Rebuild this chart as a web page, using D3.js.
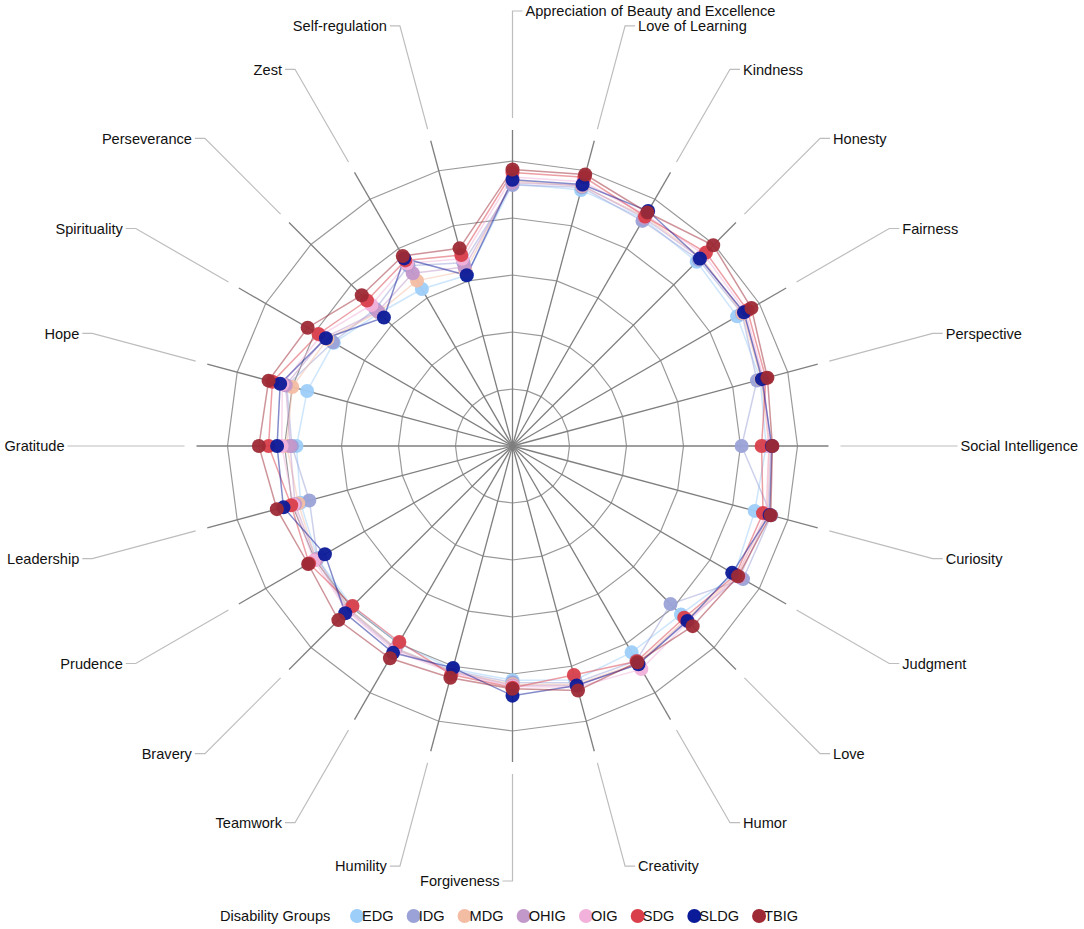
<!DOCTYPE html>
<html>
<head>
<meta charset="utf-8">
<script src="https://cdn.jsdelivr.net/npm/d3@7"></script>
<style>
  body { margin: 0; background: #fff; }
  text { font-family: "Liberation Sans", Arial, sans-serif; fill: #111; }
</style>
</head>
<body>
<div id="chart"></div>
<script>
var w = 1084;
var h = 929;
var cx = 512.5;
var cy = 446;

// axes, clockwise from the top
var strengths = ["Appreciation of Beauty and Excellence", "Love of Learning", "Kindness", "Honesty",
    "Fairness", "Perspective", "Social Intelligence", "Curiosity", "Judgment", "Love", "Humor",
    "Creativity", "Forgiveness", "Humility", "Teamwork", "Bravery", "Prudence", "Leadership",
    "Gratitude", "Hope", "Spirituality", "Perseverance", "Zest", "Self-regulation"];

var groupNames = ["EDG", "IDG", "MDG", "OHIG", "OIG", "SDG", "SLDG", "TBIG"];
var colors = ["#9dcdf9", "#9ba2d7", "#f3bda3", "#c297ca", "#f1b1da", "#d93f4b", "#0b1a98", "#9d2a35"];
var levels = [1, 2, 3, 4, 5];

// mean scores per group, same order as strengths
var edg  = [4.60, 4.65, 4.60, 4.57, 4.55, 4.50, 4.45, 4.40, 4.50, 4.18, 4.18, 4.25, 4.11, 4.05, 4.00, 3.98, 3.95, 3.85, 3.79, 3.73, 3.62, 3.30, 3.18, 3.10];
var idg  = [4.58, 4.70, 4.56, 4.62, 4.65, 4.44, 4.02, 4.70, 4.67, 3.92, 4.35, 4.30, 4.15, 4.08, 4.10, 4.05, 3.95, 3.69, 3.87, 4.10, 3.64, 3.40, 3.65, 3.33];
var mdg  = [4.65, 4.72, 4.65, 4.68, 4.66, 4.52, 4.50, 4.62, 4.55, 4.30, 4.40, 4.33, 4.18, 4.10, 4.10, 4.05, 3.98, 3.89, 3.96, 4.00, 3.75, 3.32, 3.35, 3.18];
var ohig = [4.62, 4.73, 4.62, 4.66, 4.68, 4.55, 4.53, 4.64, 4.60, 4.32, 4.42, 4.35, 4.20, 4.10, 4.12, 4.08, 3.98, 3.95, 3.90, 4.12, 3.80, 3.34, 3.50, 3.25];
var oig  = [4.72, 4.80, 4.68, 4.75, 4.72, 4.56, 4.50, 4.60, 4.55, 4.36, 4.52, 4.38, 4.22, 4.12, 4.15, 4.10, 4.02, 3.98, 4.05, 4.18, 3.88, 3.50, 3.70, 3.40];
var sdg  = [4.80, 4.88, 4.65, 4.80, 4.76, 4.60, 4.37, 4.55, 4.52, 4.26, 4.36, 4.16, 4.24, 4.15, 3.97, 3.97, 4.12, 4.02, 4.28, 4.36, 3.93, 3.61, 3.76, 3.47];
var sldg = [4.67, 4.75, 4.76, 4.65, 4.69, 4.53, 4.55, 4.67, 4.45, 4.34, 4.42, 4.35, 4.38, 4.03, 4.19, 4.15, 3.80, 4.16, 4.13, 4.22, 3.78, 3.19, 3.80, 3.10];
var tbig = [4.85, 4.93, 4.73, 4.98, 4.84, 4.63, 4.56, 4.69, 4.57, 4.47, 4.38, 4.44, 4.26, 4.21, 4.30, 4.32, 4.14, 4.28, 4.45, 4.43, 4.15, 3.74, 3.85, 3.59];

var groupValues = [edg, idg, mdg, ohig, oig, sdg, sldg, tbig];

var svg = d3.select("#chart")
    .append("svg")
    .attr("width", w)
    .attr("height", h);

var g = svg.append("g")
    .attr("transform", "translate(" + cx + "," + cy + ")");

var rScale = d3.scaleLinear()
    .domain([0, 5])
    .range([0, 285]);

var angle = d3.scalePoint()
    .domain(strengths)
    .range([0, 2 * Math.PI * (strengths.length - 1) / strengths.length]);

var spokeEnd = 316;
var leaderStart = 328;
var leaderEnd = 435;

// ring polygons
var ringLine = d3.lineRadial()
    .angle(function (d) { return angle(d); })
    .curve(d3.curveLinearClosed);

g.selectAll(".ring")
    .data(levels)
    .enter()
    .append("path")
    .attr("class", "ring")
    .attr("d", function (lv) {
        return ringLine.radius(rScale(lv))(strengths);
    })
    .attr("fill", "none")
    .attr("stroke", "#9a9a9a")
    .attr("stroke-width", 1.2);

// spokes
g.selectAll(".spoke")
    .data(strengths)
    .enter()
    .append("line")
    .attr("class", "spoke")
    .attr("x1", 0)
    .attr("y1", 0)
    .attr("x2", function (d) { return spokeEnd * Math.sin(angle(d)); })
    .attr("y2", function (d) { return -spokeEnd * Math.cos(angle(d)); })
    .attr("stroke", "#7f7f7f")
    .attr("stroke-width", 1.3);

// label leader lines
function side(i) {
    return i < strengths.length / 2 ? 1 : -1;
}

g.selectAll(".leader")
    .data(strengths)
    .enter()
    .append("polyline")
    .attr("class", "leader")
    .attr("points", function (d, i) {
        var a = angle(d);
        var x1 = leaderStart * Math.sin(a), y1 = -leaderStart * Math.cos(a);
        var x2 = leaderEnd * Math.sin(a), y2 = -leaderEnd * Math.cos(a);
        return [[x1, y1], [x2, y2], [x2 + 10 * side(i), y2]].join(" ");
    })
    .attr("fill", "none")
    .attr("stroke", "#bdbdbd")
    .attr("stroke-width", 1.2);

g.selectAll(".axis-label")
    .data(strengths)
    .enter()
    .append("text")
    .attr("class", "axis-label")
    .text(function (d) { return d; })
    .attr("x", function (d, i) { return leaderEnd * Math.sin(angle(d)) + 13 * side(i); })
    .attr("y", function (d) { return -leaderEnd * Math.cos(angle(d)); })
    .attr("dy", "0.36em")
    .attr("text-anchor", function (d, i) { return side(i) > 0 ? "start" : "end"; })
    .attr("font-size", "14.6px");

// series lines
var seriesLine = d3.lineRadial()
    .angle(function (d, i) { return angle(strengths[i]); })
    .radius(function (d) { return rScale(d); })
    .curve(d3.curveLinearClosed);

g.selectAll(".series")
    .data(groupValues)
    .enter()
    .append("path")
    .attr("class", "series")
    .attr("d", seriesLine)
    .attr("fill", "none")
    .attr("stroke", function (d, i) { return colors[i]; })
    .attr("stroke-opacity", 0.5)
    .attr("stroke-width", 1.5);

// dots, one group per series so later groups sit on top
var dotGroups = g.selectAll(".dots")
    .data(groupValues)
    .enter()
    .append("g")
    .attr("class", "dots")
    .attr("fill", function (d, i) { return colors[i]; });

dotGroups.selectAll("circle")
    .data(function (d) { return d; })
    .enter()
    .append("circle")
    .attr("cx", function (d, i) { return rScale(d) * Math.sin(angle(strengths[i])); })
    .attr("cy", function (d, i) { return -rScale(d) * Math.cos(angle(strengths[i])); })
    .attr("r", 7)
    .attr("fill-opacity", 0.95);

// legend
var legend = svg.append("g")
    .attr("transform", "translate(0,916)");

legend.append("text")
    .text("Disability Groups")
    .attr("x", 220)
    .attr("dy", "0.35em")
    .attr("font-size", "14.6px");

var lx = 357;
groupNames.forEach(function (name, i) {
    legend.append("circle")
        .attr("cx", lx)
        .attr("cy", 0)
        .attr("r", 7)
        .attr("fill", colors[i]);
    var t = legend.append("text")
        .text(name)
        .attr("x", lx + 5)
        .attr("dy", "0.35em")
        .attr("font-size", "14.6px");
    lx = lx + 5 + t.node().getComputedTextLength() + 20;
});
</script>
</body>
</html>
